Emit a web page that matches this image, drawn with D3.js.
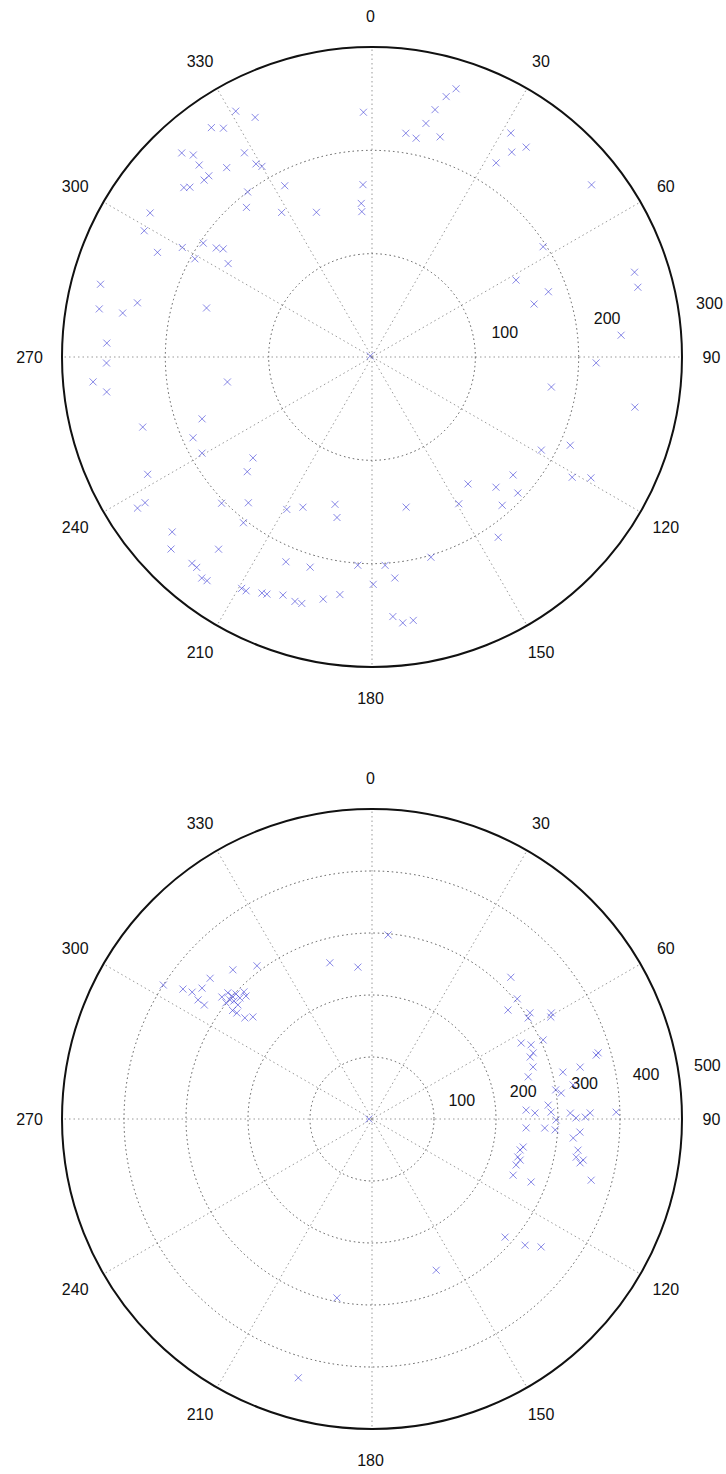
<!DOCTYPE html>
<html>
<head>
<meta charset="utf-8">
<script src="https://cdn.jsdelivr.net/npm/d3@7"></script>
<style>
  body { margin: 0; background: #fff; }
  text { font-family: "Liberation Sans", Arial, sans-serif; }
</style>
</head>
<body>
<div id="chart"></div>
<script>
// angle ticks around the rim (degrees, clockwise from top)
var angleTicks = [0, 30, 60, 90, 120, 150, 180, 210, 240, 270, 300, 330];

// top plot: rings and points (angle in degrees, radius)
var topRings = [100, 200, 300];
var topTheta = [331, 334, 325, 327, 317, 318.5, 318, 318, 316.5, 322.5, 312, 313, 328, 329, 330, 333, 323, 320, 328, 339,
    303, 299, 296, 300, 299, 304, 305, 306, 303, 285, 280, 280, 283, 286.5, 358, 357, 356, 356,
    17.4, 15.9, 14.3, 13, 8.6, 11.4, 17.2, 31.8, 34.3, 36.3, 32.6, 51.9, 57.2, 61.9, 69.7, 71.9, 72.1, 75.3, 85,
    300, 91.5, 99.5, 100.8, 118.8, 114, 121, 118.9, 129.9, 136.4, 133, 142.9, 149.4, 138.7, 145, 167.2, 163.6, 176.4, 174.1, 179.7, 175.4, 173.4, 171.1,
    273, 268.7, 264.9, 262.5, 253, 250, 245.7, 240.5, 260.2, 229.7, 227.4, 242.4, 237.2, 237.3, 225.8, 220.3, 217.8, 209.2, 204.7, 194.1, 192.3,
    228.8, 226.3, 218.6, 221.1, 219.8, 216.4, 217.6, 202.8, 196.4, 183.9, 209.4, 208.3, 205, 203.9, 200.5, 197.5, 195.9, 191.4, 187.7];
var topR = [272, 258, 271, 264, 270, 261, 250, 236, 236, 231, 245, 241, 233, 218, 213, 186, 200, 189, 165, 150,
    256, 252, 231, 212, 196, 197, 184, 178, 166, 272, 268, 245, 233, 167, 237, 167, 149, 141,
    272, 262, 247, 232, 219, 216, 223, 255, 240, 252, 223, 270, 197, 158, 182, 165, 267, 266, 242,
    2, 217, 176, 259, 187, 210, 226, 242, 178, 174, 193, 154, 165, 191, 213, 149, 202, 202, 215, 220, 252, 259, 258,
    257, 257, 271, 259, 232, 175, 190, 189, 142, 151, 164, 245, 270, 261, 203, 185, 203, 169, 160, 147, 159,
    257, 269, 238, 265, 265, 269, 270, 215, 212, 202, 257, 257, 252, 251, 246, 248, 248, 239, 232];

// bottom plot
var bottomRings = [100, 200, 300, 400, 500];
var bottomTheta = [344.9, 354.7, 317, 323.1, 311, 302.7, 304.5, 305.2, 307.6, 304.4, 304.2,
    309.1, 311.2, 311.3, 312.6, 312.5, 310.5, 314.3, 310, 310.4, 308.5, 307.9, 308.1, 310.6, 308.5, 314.8,
    5, 44.4, 50.4, 51.3, 56.1, 59.4, 60.3, 57.1, 65.2, 63, 67.7, 74.1,
    68.6, 72.1, 74.9, 76, 76.2, 73.7, 81, 82.2, 80.4, 85.5, 87.8, 86.7, 87.9, 88.3, 89.7, 89.5, 88.4, 90.3, 93, 93.4, 88.4,
    95.4, 93.6, 93.3, 100.5, 101.8, 104.6, 107.7, 111.7, 98.6, 100.6, 101, 101.9, 111.6, 105.6, 131.6, 129.5, 127.1, 157,
    270, 191.1, 195.9, 65, 105.5];
var bottomR = [261, 246, 329, 309, 346, 400, 370, 355, 346, 340, 327,
    312, 309, 301, 298, 289, 293, 284, 299, 284, 301, 285, 277, 253, 262, 291,
    298, 320, 304, 281, 307, 336, 332, 300, 304, 270, 281, 376,
    274, 273, 261, 346, 317, 380, 300, 308, 329, 285, 289, 249, 263, 320, 329, 344, 352, 297, 279, 296, 394,
    326, 336, 249, 248, 244, 243, 244, 245, 336, 335, 347, 343, 276, 367, 287, 320, 342, 265,
    5, 294, 434, 283, 248];

var svgWidth = 726;
var svgHeight = 1474;
var outerR = 310;

var svg = d3.select("#chart")
    .append("svg")
    .attr("width", svgWidth)
    .attr("height", svgHeight);

function drawPolar(cx, cy, rings, theta, r) {
    var rMax = d3.max(rings);
    var rScale = d3.scaleLinear().domain([0, rMax]).range([0, outerR]);
    var rad = d => d * Math.PI / 180;

    var g = svg.append("g").attr("transform", `translate(${cx}, ${cy})`);

    // spokes (dotted, light)
    g.selectAll(".spoke")
        .data(angleTicks)
        .enter()
        .append("line")
        .attr("x1", 0).attr("y1", 0)
        .attr("x2", d => d3.pointRadial(rad(d), outerR)[0])
        .attr("y2", d => d3.pointRadial(rad(d), outerR)[1])
        .attr("stroke", "#999")
        .attr("stroke-width", 1)
        .attr("stroke-dasharray", "1.5,3");

    // inner rings (dotted)
    g.selectAll(".ring")
        .data(rings.slice(0, -1))
        .enter()
        .append("circle")
        .attr("r", d => rScale(d))
        .attr("fill", "none")
        .attr("stroke", "#555")
        .attr("stroke-width", 1)
        .attr("stroke-dasharray", "1.5,3");

    // outer rim
    g.append("circle")
        .attr("r", outerR)
        .attr("fill", "none")
        .attr("stroke", "#111")
        .attr("stroke-width", 2);

    // ring labels, just above the 90 spoke
    var pad = rScale(rMax / rings.length) / 20;
    g.selectAll(".rlabel")
        .data(rings)
        .enter()
        .append("text")
        .attr("x", d => d3.pointRadial(rad(82), rScale(d) + pad)[0] + 12)
        .attr("y", d => d3.pointRadial(rad(82), rScale(d) + pad)[1] - 4)
        .attr("font-size", 16)
        .attr("fill", "#111")
        .text(d => d);

    // angle labels
    g.selectAll(".alabel")
        .data(angleTicks)
        .enter()
        .append("text")
        .attr("x", d => d3.pointRadial(rad(d), outerR * 1.1)[0] - 1.5)
        .attr("y", d => d3.pointRadial(rad(d), outerR * 1.1)[1])
        .attr("text-anchor", "middle")
        .attr("dominant-baseline", "central")
        .attr("font-size", 16)
        .attr("fill", "#111")
        .text(d => d);

    // x markers
    var pts = theta.map((t, i) => d3.pointRadial(rad(t), rScale(r[i])));
    var s = 3.5;
    g.selectAll(".pt")
        .data(pts)
        .enter()
        .append("path")
        .attr("d", d => `M${d[0] - s},${d[1] - s}L${d[0] + s},${d[1] + s}M${d[0] - s},${d[1] + s}L${d[0] + s},${d[1] - s}`)
        .attr("stroke", "#3a3ad6")
        .attr("stroke-opacity", 0.6)
        .attr("stroke-width", 1)
        .attr("fill", "none");
}

drawPolar(372, 357, topRings, topTheta, topR);
drawPolar(372, 1119, bottomRings, bottomTheta, bottomR);
</script>
</body>
</html>
